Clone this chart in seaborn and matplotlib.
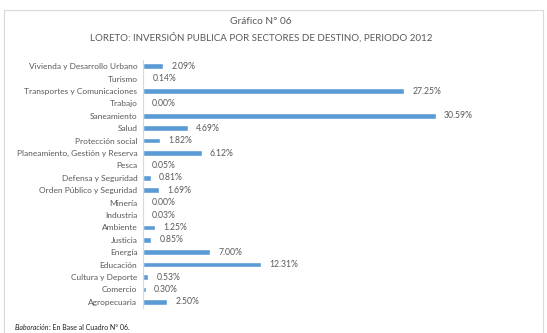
import numpy as np
import pandas as pd
import seaborn as sns
from matplotlib import pyplot as plt
from matplotlib.patches import Rectangle

sectors = [
    "Vivienda y Desarrollo Urbano", "Turismo", "Transportes y Comunicaciones",
    "Trabajo", "Saneamiento", "Salud", "Protección social",
    "Planeamiento, Gestión y Reserva", "Pesca", "Defensa y Seguridad",
    "Orden Público y Seguridad", "Minería", "Industria", "Ambiente",
    "Justicia", "Energía", "Educación", "Cultura y Deporte", "Comercio",
    "Agropecuaria",
]
shares = [2.09, 0.14, 27.25, 0.00, 30.59, 4.69, 1.82, 6.12, 0.05, 0.81,
          1.69, 0.00, 0.03, 1.25, 0.85, 7.00, 12.31, 0.53, 0.30, 2.50]

title_lines = ["Gráfico N° 06",
               "LORETO: INVERSIÓN PUBLICA POR SECTORES DE DESTINO, PERIODO 2012"]

sns.set_style("white")
plt.rcParams['font.family'] = ['Lato', 'DejaVu Sans']

grey = "#595959"
df = pd.DataFrame({"sector": sectors, "share": shares})

fig = plt.figure(figsize=(5.47, 3.33), dpi=100)
ax = fig.add_axes([143 / 547, 1 - 308 / 333, 335 / 547, 248 / 333])

sns.barplot(data=df, x="share", y="sector", color="#5B9BD5", width=0.45,
            saturation=1, ax=ax)

ax.set_xlim(0, 35)
ax.set_xlabel("")
ax.set_ylabel("")
ax.set_xticks([])
for side in ["top", "right", "bottom"]:
    ax.spines[side].set_visible(False)
ax.spines["left"].set_color("#d9d9d9")
ax.spines["left"].set_linewidth(0.8)
ax.tick_params(axis="y", length=0, pad=4, labelsize=6, labelcolor=grey)

for i, v in enumerate(shares):
    ax.annotate(f"{v:.2f}%", (v, i), xytext=(6, 0), textcoords="offset points",
                va="center", ha="left", fontsize=6.2, color=grey)

fig.text(261 / 547, 1 - 22 / 333, title_lines[0], ha="center", va="center",
         fontsize=7.3, color=grey)
fig.text(261 / 547, 1 - 38 / 333, title_lines[1], ha="center", va="center",
         fontsize=7.0, color=grey)

fig.text(15 / 547, 1 - 327 / 333, "Elaboración", ha="left", va="center",
         fontsize=5, style="italic", color="#222222")
fig.text(49 / 547, 1 - 327 / 333, ": En Base al Cuadro N° 06.", ha="left",
         va="center", fontsize=5, color="#222222")

fig.patches.append(Rectangle((4 / 547, -0.05), 539 / 547, 1.05 - 10 / 333,
                             transform=fig.transFigure, fill=False,
                             edgecolor="#d9d9d9", linewidth=0.8))

fig.savefig("out.png", dpi=100)
